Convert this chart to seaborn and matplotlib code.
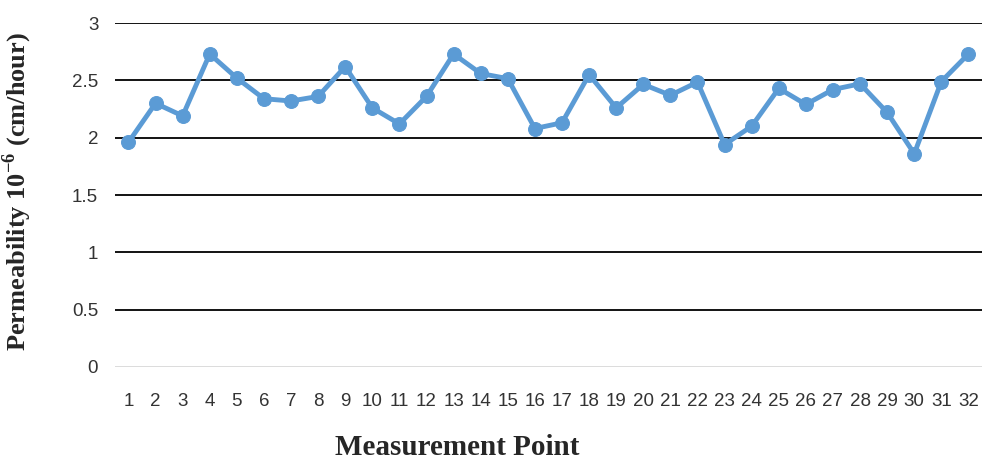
import matplotlib
matplotlib.use("Agg")
import matplotlib.pyplot as plt
import seaborn as sns
import pandas as pd

points = list(range(1, 33))
permeability = [1.96, 2.30, 2.19, 2.73, 2.52, 2.34, 2.32, 2.36, 2.62, 2.26,
                2.12, 2.36, 2.73, 2.56, 2.515, 2.08, 2.13, 2.55, 2.26, 2.465,
                2.37, 2.485, 1.94, 2.10, 2.43, 2.29, 2.42, 2.47, 2.22, 1.86,
                2.49, 2.73]
yticks = [0, 0.5, 1, 1.5, 2, 2.5, 3]
ytick_labels = ["0", "0.5", "1", "1.5", "2", "2.5", "3"]

df = pd.DataFrame({"Point": points, "Permeability": permeability})

sns.set_theme(style="white")
plt.rcParams["font.family"] = ["Liberation Sans", "DejaVu Sans"]
plt.rcParams["mathtext.fontset"] = "custom"
plt.rcParams["mathtext.bf"] = "Liberation Serif:bold"
plt.rcParams["mathtext.rm"] = "Liberation Serif:bold"

fig = plt.figure(figsize=(9.82, 4.61), dpi=100)
ax = fig.add_axes([0.117, 0.204, 0.883, 0.746])

sns.lineplot(data=df, x="Point", y="Permeability", ax=ax, color="#5B9BD5",
             linewidth=3.5, marker="o", markersize=10, markeredgecolor="#5B9BD5")

ax.set_xlim(0.5, 32.5)
ax.set_ylim(0, 3)
ax.set_yticks(yticks)
ax.set_yticklabels(ytick_labels)
ax.set_xticks(points)
ax.set_xticklabels([str(p) for p in points])
for y in yticks:
    if y == 0:
        ax.axhline(y, color="#d9d9d9", linewidth=1.3, zorder=0)
    else:
        ax.axhline(y, color="black", linewidth=1.3, zorder=0)
for s in ax.spines.values():
    s.set_visible(False)
ax.tick_params(axis="both", length=0, labelsize=13.5, colors="#333333")
ax.tick_params(axis="x", pad=19)
ax.tick_params(axis="y", pad=12)

ax.set_xlabel("Measurement Point", fontsize=21, fontweight="bold",
              family="Liberation Serif")
ax.set_ylabel(r"Permeability 10$^{\mathbf{-6}}$ (cm/hour)", fontsize=19,
              fontweight="bold", family="Liberation Serif")
ax.yaxis.set_label_coords(-0.093, 0.51)
ax.xaxis.set_label_coords(0.395, -0.195)

fig.savefig("out.png", dpi=100)
